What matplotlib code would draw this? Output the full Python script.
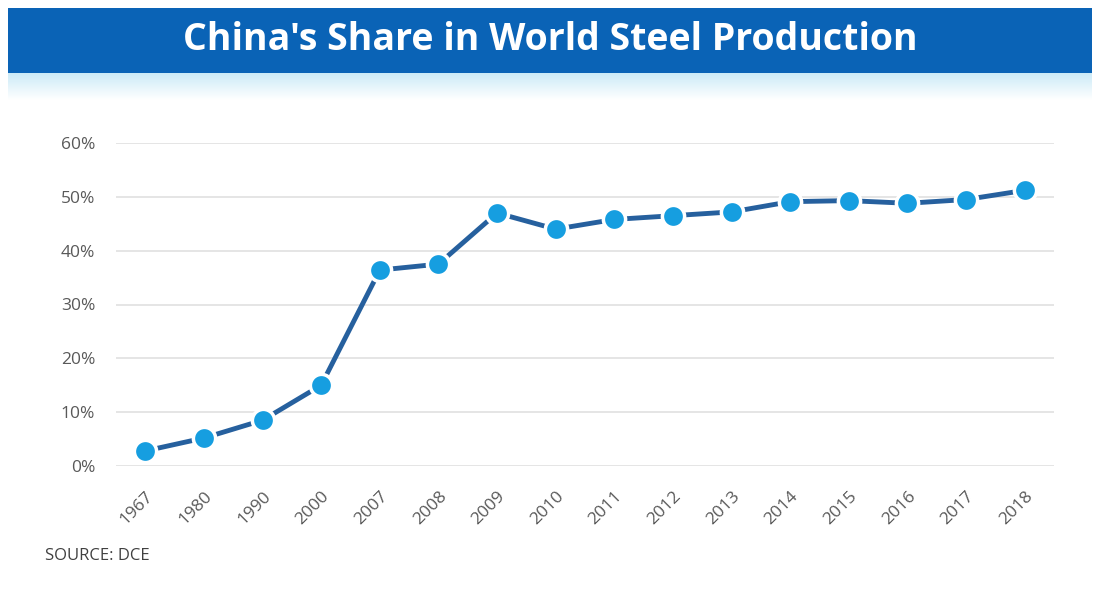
import matplotlib
matplotlib.use("Agg")
import matplotlib.pyplot as plt
import numpy as np
from matplotlib.ticker import FuncFormatter, MultipleLocator

years = ["1967", "1980", "1990", "2000", "2007", "2008", "2009", "2010", "2011", "2012",
         "2013", "2014", "2015", "2016", "2017", "2018"]
share = [2.8, 5.2, 8.5, 15.0, 36.4, 37.5, 47.0, 44.0, 45.8, 46.5, 47.2, 49.1, 49.3, 48.8, 49.5, 51.2]

W, H = 1100, 597
fig = plt.figure(figsize=(W / 100, H / 100), dpi=100)
fig.patch.set_facecolor("white")

# title band
band = fig.add_axes([8 / W, 1 - 73 / H, 1084 / W, 65 / H])
band.set_axis_off()
band.add_patch(plt.Rectangle((0, 0), 1, 1, transform=band.transAxes, color="#0a63b6"))
band.text(0.5, 0.5, "China's Share in World Steel Production", ha="center", va="center",
          color="white", fontsize=27, fontweight="bold", family="Open Sans",
          transform=band.transAxes)

# gradient below the band
grad = fig.add_axes([8 / W, 1 - 100 / H, 1084 / W, 27 / H])
grad.set_axis_off()
g = np.linspace(0, 1, 64).reshape(-1, 1)
c0 = np.array([0.80, 0.92, 0.97])
c1 = np.array([1.0, 1.0, 1.0])
img = c0[None, None, :] * (1 - g[:, :, None]) + c1[None, None, :] * g[:, :, None]
grad.imshow(img, aspect="auto", extent=[0, 1, 0, 1])

# main chart
left, right = 116, 1054
top, bottom = 143, 466
ymax = 60
ax = fig.add_axes([left / W, 1 - bottom / H, (right - left) / W, (bottom - top) / H])
x = np.arange(len(years))
ax.plot(x, share, color="#26609e", lw=3.5, zorder=2)
ax.plot(x, share, ls="none", marker="o", ms=16, mfc="#169ee0", mec="white", mew=2.5, zorder=3)
ax.set_xlim(-0.5, len(years) - 0.5)
ax.set_ylim(0, ymax)
ax.yaxis.set_major_locator(MultipleLocator(10))
ax.yaxis.set_major_formatter(FuncFormatter(lambda v, p: f"{v:.0f}%"))
ax.grid(axis="y", color="#e3e3e3", lw=1.3)
ax.set_axisbelow(True)
for s in ax.spines.values():
    s.set_visible(False)
ax.set_xticks(x)
ax.set_xticklabels(years, rotation=45, ha="right", rotation_mode="anchor")
ax.tick_params(axis="both", length=0, labelsize=12.5, labelcolor="#595959")
ax.tick_params(axis="y", pad=15)
ax.tick_params(axis="x", pad=16)
for lab in ax.get_xticklabels() + ax.get_yticklabels():
    lab.set_family("Open Sans")

fig.text(45 / W, 1 - 556 / H, "SOURCE: DCE", ha="left", va="center", fontsize=12,
         color="#404040", family="Open Sans")

fig.savefig("out.png", dpi=100, facecolor="white")
